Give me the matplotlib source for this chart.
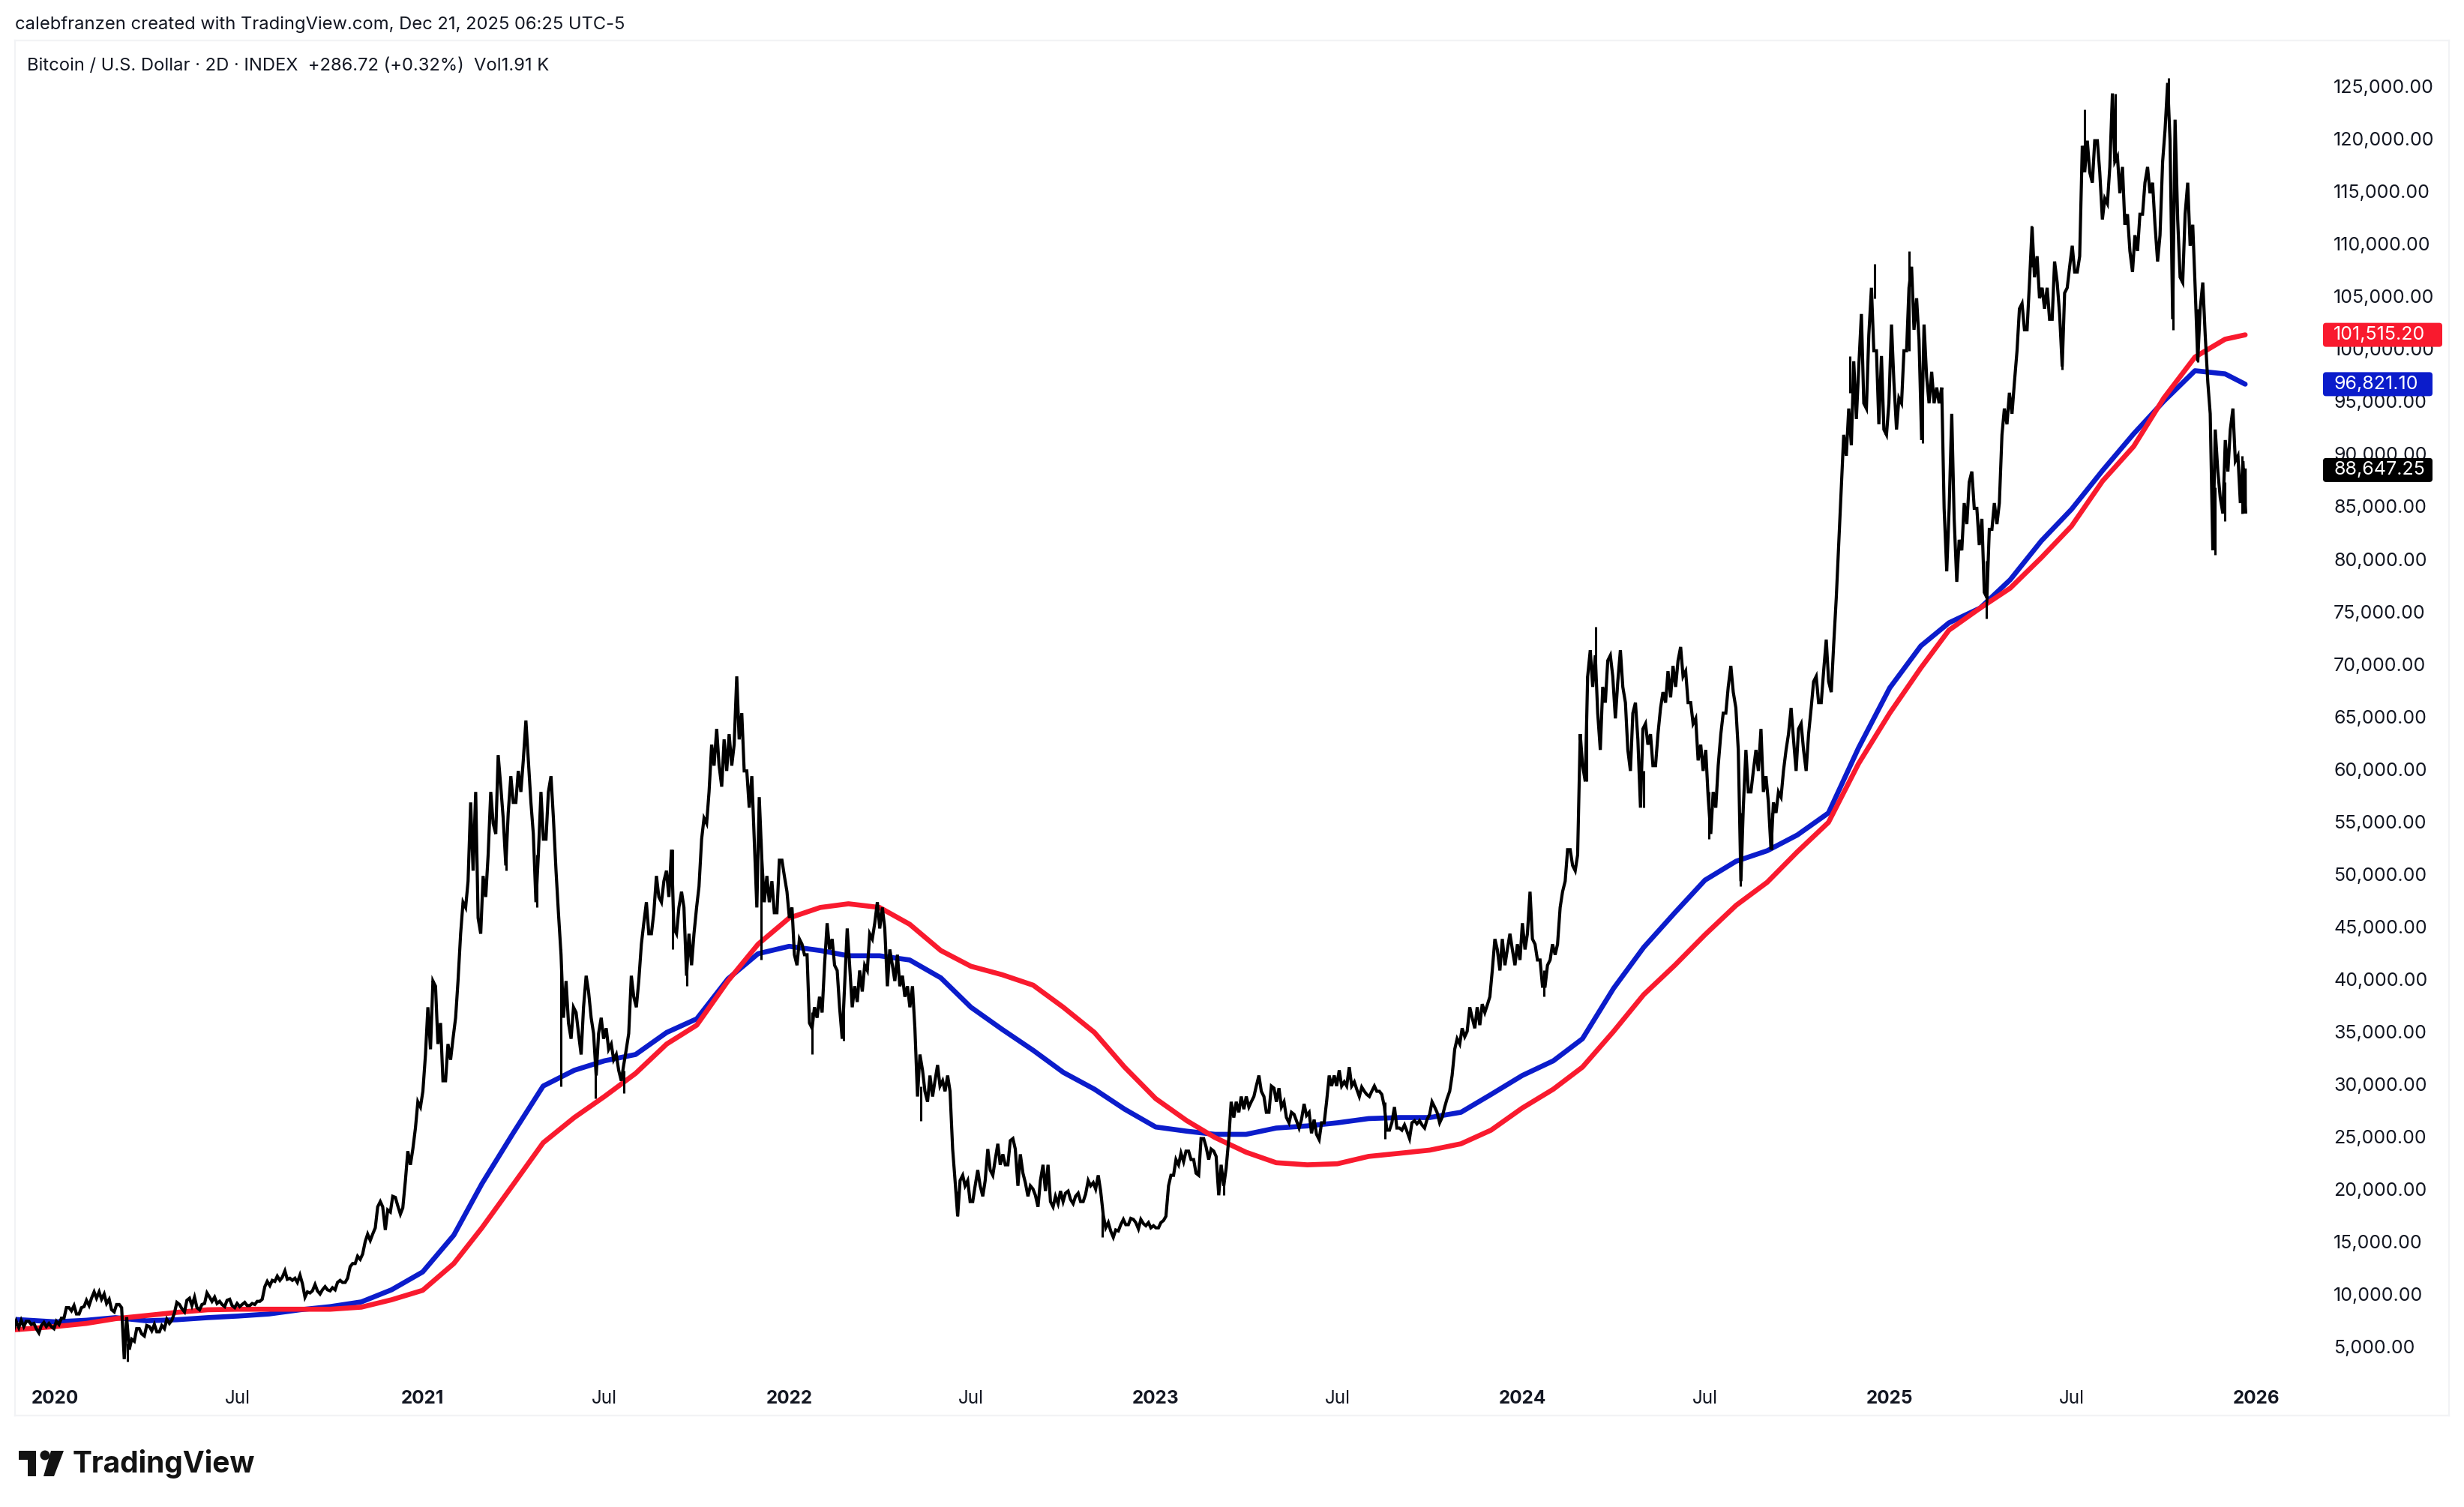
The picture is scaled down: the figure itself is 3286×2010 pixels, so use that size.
import matplotlib
matplotlib.use('Agg')
import matplotlib.pyplot as plt
import matplotlib.dates as mdates
from matplotlib.patches import FancyBboxPatch, Circle, Polygon
from matplotlib.transforms import IdentityTransform
import pandas as pd

plt.rcParams['font.family'] = ['Inter', 'DejaVu Sans']

# all prices in thousands of dollars, one low/high pair every 10 days from 2019-11-22
bar_low = [6.8, 7.1, 6.9, 7.1, 6.9, 7.9, 8.3, 9.0, 9.8, 9.3, 8.5, 4.0, 5.7, 6.2, 6.6, 6.9, 8.4, 8.5, 8.9, 9.3,
           9.3, 9.0, 8.9, 9.1, 9.2, 10.9, 11.4, 11.6, 11.3, 9.9, 10.5, 10.6, 10.6, 11.3, 13.1, 15.2, 16.5, 16.3, 18.6, 21.0, 26.0,
           33.0, 34.0, 30.5, 36.5, 47.0, 46.0, 48.0, 54.0, 51.0, 57.0, 61.0, 47.5, 53.5, 46.5, 36.0, 35.0, 39.0, 31.0,
           33.5, 31.5, 33.5, 37.5, 44.5, 48.0, 48.0, 44.5, 40.5, 47.0, 55.0, 60.5, 60.0, 63.0, 56.5, 47.0, 47.5, 46.5, 46.0,
           41.5, 36.0, 36.5, 43.0, 37.5, 41.5, 38.0, 41.0, 45.0, 39.5, 39.5, 37.5, 29.0, 28.5, 30.0, 29.5, 17.6, 19.0,
           20.5, 22.0, 22.5, 22.5, 20.5, 19.5, 18.5, 19.0, 18.8, 19.2, 19.0, 20.5, 20.0, 16.2, 16.2, 16.8, 16.4, 16.5,
           16.5, 20.5, 22.5, 23.0, 21.5, 23.0, 19.6, 25.0, 27.5, 28.0, 29.5, 27.5, 28.0, 26.5, 26.0, 25.5, 24.9, 30.0,
           30.0, 30.0, 29.0, 29.0, 29.2, 25.8, 25.8, 25.0, 26.3, 27.3, 26.5, 29.5, 34.0, 36.5, 35.8, 38.5, 41.0, 43.0, 42.0,
           44.0, 39.5, 42.0, 47.0, 51.0, 60.5, 68.0, 62.0, 69.0, 68.0, 60.0, 56.5, 60.5, 66.0, 67.0, 69.0, 64.5, 60.0,
           54.0, 63.5, 67.5, 49.5, 58.0, 58.0, 52.5, 57.5, 63.0, 62.0, 66.0, 66.5, 67.5, 87.0, 91.0, 95.0, 100.0, 92.5,
           97.0, 95.0, 102.0, 91.5, 95.0, 85.0, 84.0, 81.0, 85.0, 77.0, 83.0, 92.0, 94.0, 102.0, 107.0, 104.0, 103.0, 98.5,
           107.5, 117.0, 116.0, 112.5, 118.0, 112.0, 107.5, 113.0, 112.0, 118.0, 103.0, 106.5, 106.0, 101.5, 81.0, 84.5, 89.5, 84.5]
bar_high = [7.6, 7.6, 7.4, 7.5, 7.6, 8.9, 9.1, 9.6, 10.4, 10.2, 9.2, 8.0, 6.9, 7.2, 7.3, 7.8, 9.4, 9.6, 9.9, 10.3,
            9.9, 9.6, 9.3, 9.4, 9.5, 11.4, 11.9, 12.4, 11.7, 10.4, 11.1, 10.9, 11.3, 11.7, 13.8, 15.9, 18.5, 18.2, 19.4, 23.8, 28.5,
            37.5, 39.5, 34.0, 40.0, 49.5, 58.0, 52.0, 61.5, 56.0, 60.0, 64.8, 52.0, 58.0, 50.5, 40.0, 37.0, 40.5, 35.0,
            35.5, 33.0, 35.0, 40.0, 47.5, 50.0, 50.5, 47.0, 44.5, 49.0, 58.0, 64.0, 63.5, 69.0, 60.0, 57.5, 50.0, 51.5, 48.5,
            44.0, 42.5, 38.5, 45.5, 41.0, 45.0, 41.0, 44.5, 47.5, 43.0, 42.5, 39.5, 33.0, 31.0, 32.0, 31.0, 21.0, 21.0,
            22.0, 24.0, 24.5, 24.8, 23.5, 20.5, 21.0, 22.5, 20.0, 20.0, 19.8, 21.0, 21.5, 17.0, 16.8, 17.4, 17.3, 17.0,
            17.0, 21.5, 23.6, 23.8, 25.0, 24.0, 22.5, 28.5, 29.0, 28.5, 31.0, 30.0, 29.8, 27.5, 26.8, 27.5, 26.5, 31.0,
            31.5, 31.8, 29.9, 29.5, 29.5, 26.5, 26.0, 26.5, 26.7, 28.5, 27.0, 31.0, 35.5, 37.5, 37.8, 41.0, 44.0, 44.5, 45.5,
            48.5, 42.0, 43.5, 48.5, 52.5, 63.5, 71.5, 68.0, 71.0, 71.5, 65.5, 64.0, 63.5, 67.5, 70.0, 71.8, 66.5, 62.5,
            58.0, 65.5, 70.0, 56.5, 60.0, 64.0, 57.0, 60.0, 66.0, 64.5, 68.5, 69.5, 72.0, 92.0, 99.0, 103.5, 106.0, 99.5,
            102.5, 100.0, 108.0, 102.5, 98.0, 96.5, 94.0, 85.5, 88.5, 84.0, 85.5, 94.5, 97.0, 104.5, 111.8, 106.0, 108.5, 105.5,
            110.0, 119.5, 120.0, 114.5, 124.5, 117.5, 111.0, 116.0, 116.0, 121.0, 122.0, 113.0, 112.0, 106.5, 92.5, 91.5, 94.5, 89.5]

# the bars in between, every 10 days from 2019-11-27
mid_low = [7.0, 7.3, 6.5, 7.1, 7.3, 8.6, 8.3, 9.1, 9.7, 8.7, 8.9, 4.9, 6.4, 6.7, 6.6, 7.4, 8.8, 9.1, 8.7, 9.5,
           9.2, 9.1, 9.0, 9.1, 9.5, 11.0, 11.5, 11.5, 11.2, 10.3, 10.2, 10.5, 11.3, 12.8, 13.5, 15.3, 18.5, 18.0, 17.8, 22.5, 28.0,
           33.5, 30.5, 32.5, 44.5, 50.5, 44.5, 55.0, 55.5, 57.0, 58.0, 54.0, 53.5, 55.5, 36.5, 34.5, 33.0, 35.0, 34.5,
           32.5, 30.5, 38.5, 43.5, 44.5, 47.5, 45.0, 47.0, 41.5, 53.5, 60.5, 58.5, 60.5, 60.0, 53.5, 47.5, 46.5, 50.0, 42.5,
           42.5, 35.5, 37.0, 41.5, 34.5, 37.5, 39.0, 44.0, 45.0, 40.0, 38.5, 35.5, 29.5, 29.0, 29.5, 21.0, 20.5,
           19.0, 19.5, 21.5, 22.5, 24.0, 20.8, 19.6, 20.0, 18.5, 19.0, 18.8, 19.0, 20.2, 16.5, 15.6, 16.8, 17.0, 16.7, 16.5,
           17.2, 21.5, 22.8, 21.7, 24.2, 23.3, 20.5, 27.0, 27.8, 29.0, 27.5, 28.5, 27.0, 26.7, 27.2, 25.4, 26.5, 30.0,
           30.0, 29.7, 29.2, 29.5, 25.8, 26.0, 25.7, 26.4, 26.0, 27.5, 28.0, 33.5, 34.7, 35.5, 37.0, 43.0, 41.5, 41.5,
           43.0, 42.0, 39.5, 42.5, 49.5, 50.5, 59.0, 65.5, 66.5, 65.0, 62.0, 63.0, 62.5, 60.5, 66.5, 68.0, 66.5, 61.0,
           57.5, 56.5, 65.5, 62.0, 58.0, 60.0, 57.0, 56.0, 62.0, 60.0, 60.0, 66.5, 68.5, 76.5, 90.0, 93.5, 94.5, 93.0, 92.0,
           92.5, 100.0, 101.0, 95.0, 95.0, 79.0, 78.0, 83.5, 81.5, 76.5, 83.5, 93.0, 100.0, 102.0, 105.0, 103.0, 103.5, 106.0,
           107.5, 117.0, 117.0, 114.0, 115.0, 109.5, 109.5, 115.0, 108.5, 120.0, 107.0, 110.0, 99.0, 94.0, 86.0, 88.5, 85.5]
mid_high = [7.7, 7.6, 7.2, 7.4, 7.9, 8.9, 8.9, 9.8, 10.4, 9.7, 9.2, 5.9, 6.9, 7.1, 7.2, 7.7, 9.2, 9.8, 9.2, 9.9,
            9.5, 9.7, 9.2, 9.3, 9.7, 11.5, 11.8, 11.7, 12.0, 10.5, 10.6, 10.8, 11.5, 13.1, 14.0, 15.9, 19.0, 19.5, 18.4, 24.0, 29.5,
            40.0, 36.0, 34.5, 47.5, 57.0, 50.0, 58.0, 58.5, 59.5, 61.0, 57.0, 58.0, 59.5, 42.5, 37.5, 37.5, 36.5, 36.5,
            34.0, 32.0, 40.5, 45.5, 46.5, 49.5, 52.5, 48.5, 44.5, 55.5, 62.5, 63.0, 62.5, 65.5, 59.5, 51.5, 49.5, 51.5, 47.0,
            43.5, 37.5, 41.5, 44.0, 39.5, 39.5, 41.5, 45.5, 47.0, 41.5, 40.5, 39.5, 31.5, 30.5, 30.5, 24.0, 21.5,
            20.5, 21.0, 23.0, 23.5, 25.0, 21.7, 20.2, 22.5, 19.5, 19.8, 19.5, 19.7, 20.8, 17.7, 16.3, 17.3, 17.3, 16.9, 16.7,
            17.6, 23.0, 23.8, 23.0, 25.0, 23.8, 22.2, 28.5, 29.0, 30.0, 29.0, 29.8, 28.5, 27.3, 28.3, 26.8, 28.5, 31.0,
            30.4, 30.4, 29.5, 30.0, 28.0, 28.0, 26.3, 26.7, 26.8, 28.0, 28.8, 34.5, 35.2, 37.5, 37.7, 44.0, 43.0, 43.5,
            44.5, 43.5, 41.5, 43.5, 52.5, 52.0, 69.0, 71.0, 70.5, 68.5, 66.5, 66.5, 64.5, 63.5, 69.5, 70.5, 69.5, 65.0,
            62.0, 60.5, 68.0, 66.0, 62.0, 62.0, 59.5, 58.0, 63.5, 64.0, 63.5, 69.0, 72.5, 81.5, 94.5, 98.5, 101.5, 100.0, 95.0,
            95.5, 106.0, 105.0, 97.5, 96.5, 85.0, 82.0, 87.5, 85.0, 83.0, 85.5, 96.0, 104.0, 106.5, 109.0, 106.0, 106.5, 108.0,
            109.0, 120.0, 120.0, 117.5, 118.5, 113.0, 113.0, 117.5, 111.0, 125.5, 112.5, 116.0, 104.0, 97.0, 88.5, 92.5, 90.0]
last_close = 88.647

wick_dates = ['2020-03-13', '2021-03-25', '2021-04-25', '2021-05-19', '2021-06-22', '2021-07-20', '2021-09-07',
              '2021-09-21', '2021-12-04', '2022-01-24', '2022-02-24', '2022-05-12', '2022-06-18', '2022-11-09',
              '2023-03-10', '2023-08-17', '2024-01-23', '2024-03-05', '2024-03-14', '2024-05-01', '2024-07-05',
              '2024-08-05', '2024-09-06', '2024-11-22', '2024-12-17', '2025-01-20', '2025-02-03', '2025-04-07',
              '2025-05-22', '2025-06-22', '2025-07-14', '2025-08-14', '2025-10-06', '2025-10-10', '2025-11-04',
              '2025-11-21', '2025-12-01', '2025-12-18']
wick_low = [3.8, 50.5, 47.0, 30.0, 28.8, 29.3, 43.0, 39.5, 42.0, 33.0, 34.3, 26.7, 17.6, 15.6, 19.6, 25.0, 38.5, 59.0,
            70.0, 56.5, 53.5, 49.0, 52.5, 96.0, 105.0, 100.0, 91.2, 74.5, 108.0, 98.2, 118.0, 118.0, 122.0, 102.0, 98.9,
            80.6, 83.8, 84.5]
wick_high = [5.5, 54.0, 52.0, 43.0, 33.0, 31.5, 52.5, 43.5, 53.5, 37.0, 39.0, 30.0, 20.0, 18.0, 21.0, 28.5, 41.0, 69.0,
             73.7, 60.0, 58.0, 56.0, 56.0, 99.5, 108.3, 109.5, 100.0, 80.0, 111.9, 102.0, 123.0, 124.5, 126.0, 113.0, 104.0,
             87.0, 87.5, 90.0]

# moving averages, read once per month
ma_dates = ['2019-11-22'] + [str(d.date()) for d in pd.date_range('2020-01-01', '2025-12-01', freq='MS')] + ['2025-12-21']
blue_ma = [7.78, 7.55, 7.7, 7.95, 7.65, 7.75, 7.95, 8.1, 8.3, 8.7, 9.0, 9.45, 10.6,
           12.3, 15.8, 20.7, 25.5, 30.0, 31.5, 32.4, 33.0, 35.1, 36.4, 40.2, 42.6,
           43.3, 42.9, 42.4, 42.4, 42.0, 40.3, 37.5, 35.4, 33.4, 31.3, 29.7, 27.8,
           26.1, 25.7, 25.4, 25.4, 26.0, 26.2, 26.5, 26.9, 27.0, 27.0, 27.5, 29.2,
           31.0, 32.4, 34.5, 39.3, 43.2, 46.5, 49.6, 51.4, 52.4, 53.9, 56.0, 62.2,
           67.9, 71.9, 74.1, 75.5, 78.2, 81.9, 84.9, 88.6, 92.1, 95.2, 98.1, 97.8, 96.82]
red_ma = [6.8, 7.1, 7.4, 7.85, 8.15, 8.45, 8.7, 8.75, 8.75, 8.75, 8.75, 8.95, 9.65,
          10.55, 13.1, 16.5, 20.6, 24.6, 27.0, 29.0, 31.2, 34.0, 35.8, 40.0, 43.5,
          46.0, 47.0, 47.35, 47.0, 45.4, 42.9, 41.4, 40.6, 39.6, 37.5, 35.1, 31.8,
          28.8, 26.7, 25.1, 23.7, 22.7, 22.5, 22.6, 23.3, 23.6, 23.9, 24.5, 25.8,
          27.9, 29.7, 31.8, 35.2, 38.7, 41.5, 44.4, 47.2, 49.4, 52.3, 55.1, 60.7,
          65.5, 69.8, 73.4, 75.5, 77.4, 80.3, 83.3, 87.6, 90.9, 95.5, 99.4, 101.1, 101.515]

price_ticks = list(range(5, 130, 5))
x_ticks = ['2020-01-01', '2020-07-01', '2021-01-01', '2021-07-01', '2022-01-01', '2022-07-01', '2023-01-01',
           '2023-07-01', '2024-01-01', '2024-07-01', '2025-01-01', '2025-07-01', '2026-01-01']
x_labels = ['2020', 'Jul', '2021', 'Jul', '2022', 'Jul', '2023', 'Jul', '2024', 'Jul', '2025', 'Jul', '2026']

RED = '#f91a2e'
BLUE = '#0b1ccb'
INK = '#131722'
BORDER = '#f2f3f5'

W, H = 3286, 2010
fig = plt.figure(figsize=(W / 100, H / 100), dpi=100, facecolor='white')

# chart pane
left, right, top, bottom = 20, 3266, 54, 1888
ax = fig.add_axes([left / W, 1 - bottom / H, (right - left) / W, (bottom - top) / H])
ax.set_xlim(mdates.date2num(pd.Timestamp('2019-11-22')), mdates.date2num(pd.Timestamp('2026-07-12')))
ax.set_ylim(-1.37, 129.54)
ax.set_xticks([])
ax.set_yticks([])
for s in ax.spines.values():
    s.set_color(BORDER)
    s.set_linewidth(1.6)


def ms(d):
    return mdates.date2num(pd.to_datetime(d))


# merge both bar lists by date, then zig-zag through each bar's low and high
bar_x = mdates.date2num(pd.date_range('2019-11-22', periods=len(bar_low), freq='10D'))
mid_x = mdates.date2num(pd.date_range('2019-11-27', periods=len(mid_low), freq='10D'))
bars = sorted(list(zip(bar_x, bar_low, bar_high)) + list(zip(mid_x, mid_low, mid_high)))
xs, ys = [], []
for i, (bx, lo, hi) in enumerate(bars):
    rising = i + 1 < len(bars) and bars[i + 1][1] > lo
    xs += [bx - 1.2, bx + 1.2]
    ys += [lo, hi] if rising else [hi, lo]
xs.append(ms('2025-12-21'))
ys.append(last_close)

ax.plot(ms(ma_dates), blue_ma, color=BLUE, lw=4.8, zorder=2, solid_capstyle='round', solid_joinstyle='round')
ax.plot(ms(ma_dates), red_ma, color=RED, lw=4.8, zorder=3, solid_capstyle='round', solid_joinstyle='round')
ax.plot(xs, ys, color='black', lw=3.0, zorder=4, solid_joinstyle='miter')
ax.vlines(ms(wick_dates), wick_low, wick_high, color='black', lw=2.2, zorder=4)

# price scale
label_x = (3112 - left) / (right - left)
for p in price_ticks:
    ax.text(label_x, p, f'{p * 1000:,.2f}', fontsize=18, color=INK, va='center', ha='left',
            transform=ax.get_yaxis_transform(), zorder=5)

# last value tags
fig.canvas.draw()
for val, col, x1 in [(101.5152, RED, 3257), (96.8211, BLUE, 3244), (88.64725, 'black', 3244)]:
    yc = ax.transData.transform((ms('2020-01-01'), val))[1]
    ax.add_patch(FancyBboxPatch((3098, yc - 16), x1 - 3098, 32, boxstyle='round,pad=0,rounding_size=4',
                                fc=col, ec='none', transform=IdentityTransform(), zorder=6, clip_on=False))
    ax.text(label_x, val, f'{val * 1000:,.2f}', fontsize=18, color='white', va='center', ha='left',
            transform=ax.get_yaxis_transform(), zorder=7)

# time scale
label_y = (bottom - 1865) / (bottom - top)
for d, lab in zip(x_ticks, x_labels):
    ax.text(ms(d), label_y, lab, fontsize=17.5, color=INK, ha='center', va='center',
            fontweight='normal' if lab == 'Jul' else 'bold', transform=ax.get_xaxis_transform(), zorder=5)

# header texts
fig.text(20 / W, 1 - 33 / H, 'calebfranzen created with TradingView.com, Dec 21, 2025 06:25 UTC-5',
         fontsize=17.1, color=INK, va='center', ha='left')
fig.text(36 / W, 1 - 88 / H, 'Bitcoin / U.S. Dollar · 2D · INDEX  +286.72 (+0.32%)  Vol1.91 K',
         fontsize=17.1, color=INK, va='center', ha='left')

# logo
overlay = fig.add_axes([0, 0, 1, 1], facecolor='none')
overlay.set_xlim(0, W)
overlay.set_ylim(H, 0)
overlay.axis('off')
overlay.add_patch(Polygon([(25, 1935), (48, 1935), (48, 1969), (37, 1969), (37, 1947), (25, 1947)], fc='#131313', ec='none'))
overlay.add_patch(Circle((60, 1941), 6.5, fc='#131313', ec='none'))
overlay.add_patch(Polygon([(68, 1935), (85, 1935), (72, 1969), (58, 1969)], fc='#131313', ec='none'))
overlay.text(97, 1952, 'TradingView', fontsize=28, fontweight='bold', color='#131313', va='center', ha='left')

fig.savefig('out.png', dpi=100, facecolor='white')
